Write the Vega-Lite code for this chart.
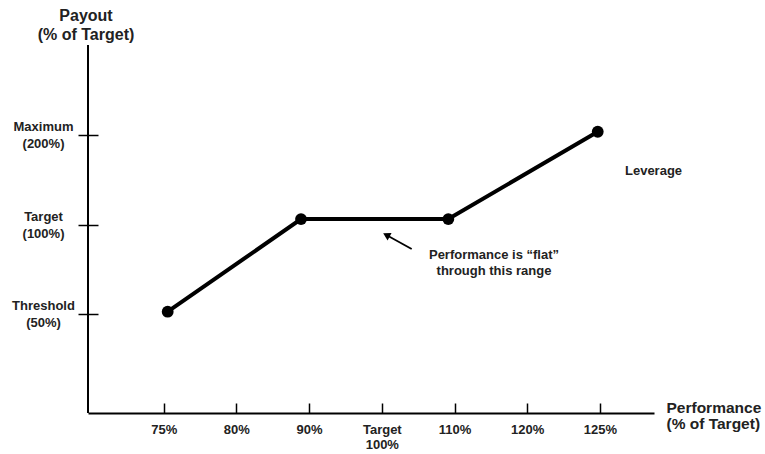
{
  "$schema": "https://vega.github.io/schema/vega-lite/v6.json",
  "width": 566,
  "height": 368,
  "autosize": {"type": "none"},
  "padding": {"left": 88, "top": 45, "right": 111, "bottom": 41},
  "background": "white",
  "config": {
    "view": {"stroke": null},
    "axis": {"grid": false, "labelFont": "Liberation Sans", "titleFont": "Liberation Sans", "labelFontWeight": "bold", "titleFontWeight": "bold", "labelColor": "#222222", "titleColor": "#222222", "tickColor": "#000000", "domainColor": "#000000"},
    "text": {"font": "Liberation Sans", "fontWeight": "bold", "color": "#222222"}
  },
  "datasets": {
    "curve": [
      {"perf": "75%", "payout": "Threshold (50%)", "u": 1.055, "v": 1.026},
      {"perf": "90%", "payout": "Target (100%)", "u": 2.889, "v": 2.061},
      {"perf": "110%", "payout": "Target (100%)", "u": 4.915, "v": 2.061},
      {"perf": "125%", "payout": "Maximum (200%)", "u": 6.97, "v": 3.037}
    ],
    "notes": [
      {"label": "Leverage", "u": 7.345, "v": 2.601, "kind": "left"},
      {"label": "Performance is “flat”\nthrough this range", "u": 5.543, "v": 1.654, "kind": "center"}
    ],
    "arrow": [
      {"u": 4.411, "v": 1.726, "u2": 4.063, "v2": 1.883}
    ],
    "arrowhead": [
      {"u": 4.063, "v": 1.883}
    ]
  },
  "encoding": {
    "x": {
      "field": "u", "type": "quantitative",
      "scale": {"domain": [-0.041, 7.744], "nice": false, "zero": false},
      "axis": {
        "values": [1, 2, 3, 4, 5, 6, 7],
        "labelExpr": "['75%','80%','90%',['Target','100%'],'110%','120%','125%'][datum.value-1]",
        "tickSize": -10, "tickWidth": 1.5, "domainWidth": 2,
        "labelFontSize": 13, "labelPadding": 20, "labelBaseline": "top", "labelLineHeight": 15,
        "labelFlush": false, "labelOverlap": false,
        "title": ["Performance", "(% of Target)"],
        "titleX": 578, "titleY": -1, "titleAlign": "left", "titleBaseline": "alphabetic",
        "titleFontSize": 15.5, "titleLineHeight": 16
      }
    },
    "y": {
      "field": "v", "type": "quantitative",
      "scale": {"domain": [-0.106, 4.006], "nice": false, "zero": false},
      "axis": {
        "orient": "left", "offset": -10, "domain": false,
        "values": [1, 2, 3],
        "labelExpr": "[['Threshold','(50%)'],['Target','(100%)'],['Maximum','(200%)']][datum.value-1]",
        "tickSize": 20, "tickWidth": 1.5,
        "labelFontSize": 13, "labelPadding": 35, "labelAlign": "center", "labelBaseline": "middle", "labelLineHeight": 17,
        "labelOffset": -8.5,
        "labelFlush": false, "labelOverlap": false,
        "title": ["Payout", "(% of Target)"],
        "titleAngle": 0, "titleX": -12.5, "titleY": -25, "titleAlign": "center", "titleBaseline": "alphabetic",
        "titleFontSize": 16, "titleLineHeight": 19
      }
    }
  },
  "layer": [
    {
      "data": {"name": "curve"},
      "mark": {"type": "rule", "strokeWidth": 2, "color": "#000000"},
      "encoding": {
        "x": {"datum": -0.041, "type": "quantitative"},
        "y": {"datum": -0.106, "type": "quantitative"},
        "y2": {"datum": 4.006}
      }
    },
    {
      "data": {"name": "curve"},
      "mark": {"type": "line", "strokeWidth": 4, "color": "#000000"},
      "encoding": {}
    },
    {
      "data": {"name": "curve"},
      "mark": {"type": "point", "filled": true, "size": 140, "opacity": 1, "color": "#000000", "shape": "circle"},
      "encoding": {}
    },
    {
      "data": {"name": "arrow"},
      "mark": {"type": "rule", "strokeWidth": 1.8, "color": "#000000"},
      "encoding": {
        "x2": {"field": "u2"},
        "y2": {"field": "v2"}
      }
    },
    {
      "data": {"name": "arrowhead"},
      "mark": {"type": "point", "shape": "triangle-up", "filled": true, "size": 70, "angle": 298, "opacity": 1, "color": "#000000"},
      "encoding": {}
    },
    {
      "data": {"name": "notes"},
      "transform": [{"filter": "datum.kind == 'left'"}],
      "mark": {"type": "text", "align": "left", "baseline": "middle", "fontSize": 13},
      "encoding": {"text": {"field": "label"}}
    },
    {
      "data": {"name": "notes"},
      "transform": [{"filter": "datum.kind == 'center'"}],
      "mark": {"type": "text", "align": "center", "baseline": "middle", "fontSize": 13, "lineBreak": "\n", "lineHeight": 16},
      "encoding": {"text": {"field": "label"}}
    }
  ]
}
